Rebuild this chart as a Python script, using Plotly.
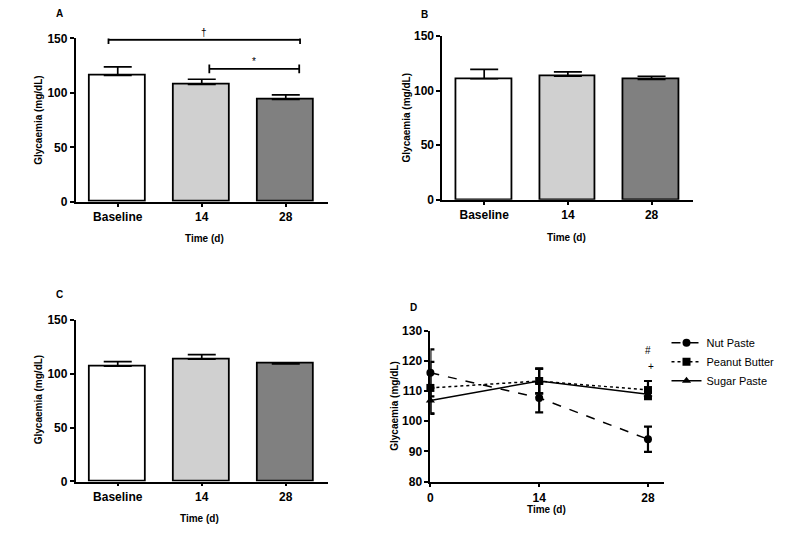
import plotly.graph_objects as go

# ---------------- data ----------------
categories = ["Baseline", "14", "28"]
days = [0, 14, 28]

nut_mean = [116.0, 107.7, 94.0]
nut_sem = [7.8, 4.8, 4.2]
peanut_mean = [111.0, 113.3, 110.3]
peanut_sem = [8.6, 4.0, 3.0]
sugar_mean = [106.8, 113.3, 108.9]
sugar_sem = [4.2, 4.2, 0.9]

bar_colors = ["#ffffff", "#d0d0d0", "#808080"]

# significance brackets in panel A: (x start, x end, y, label) in category units
brackets_A = [(-0.11, 2.17, 148.8, "†"), (1.09, 2.16, 122.0, "*")]
# markers in panel D: (day, value, label)
marks_D = [(28.0, 123.4, "#"), (28.4, 118.0, "+")]

y_ticks_bar = [0, 50, 100, 150]
y_ticks_line = [80, 90, 100, 110, 120, 130]
BAR_RANGE = [0, 150]

FONT = "Liberation Sans, Arial, sans-serif"

fig = go.Figure()

panels = [("x", "y", nut_mean, nut_sem),
          ("x2", "y2", peanut_mean, peanut_sem),
          ("x3", "y3", sugar_mean, sugar_sem)]
for xa, ya, m, s in panels:
    fig.add_trace(go.Bar(
        x=categories, y=m, xaxis=xa, yaxis=ya, width=0.667,
        marker=dict(color=bar_colors, line=dict(color="black", width=1.8)),
        error_y=dict(type="data", symmetric=False, array=s, arrayminus=[0] * len(s),
                     color="black", thickness=1.7, width=14),
        showlegend=False, hoverinfo="skip"))

line_series = [("Nut Paste", nut_mean, nut_sem, "circle", "dash"),
               ("Peanut Butter", peanut_mean, peanut_sem, "square", "dot"),
               ("Sugar Paste", sugar_mean, sugar_sem, "triangle-up", "solid")]
for name, m, s, sym, dash in line_series:
    fig.add_trace(go.Scatter(
        x=days, y=m, xaxis="x4", yaxis="y4", name=name, mode="lines+markers",
        line=dict(color="black", width=1.5, dash=dash),
        marker=dict(symbol=sym, size=8, color="black"),
        error_y=dict(type="data", array=s, color="black", thickness=2.2, width=4),
        cliponaxis=False))

axis_common = dict(showline=True, linecolor="black", linewidth=1.8, ticks="outside",
                   tickcolor="black", tickwidth=1.6, showgrid=False, zeroline=False,
                   tickfont=dict(family=FONT, size=12, color="black", weight="bold"))

def W(a, b):
    return [a / 800, b / 800]

def H(top, bottom):
    return [1 - bottom / 533, 1 - top / 533]

cat_x = dict(axis_common, type="category", range=[-0.5, 2.5], ticklen=3)
bar_y = dict(axis_common, range=BAR_RANGE, tickvals=y_ticks_bar, ticklen=4)

fig.update_layout(
    width=800, height=533, margin=dict(l=0, r=0, t=0, b=0),
    paper_bgcolor="white", plot_bgcolor="white", bargap=0,
    xaxis=dict(cat_x, domain=W(73, 326), anchor="y"),
    yaxis=dict(bar_y, domain=H(32.3, 200), anchor="x"),
    xaxis2=dict(cat_x, domain=W(441, 693), anchor="y2"),
    yaxis2=dict(bar_y, domain=H(30, 198), anchor="x2"),
    xaxis3=dict(cat_x, domain=W(73, 326), anchor="y3"),
    yaxis3=dict(bar_y, domain=H(321, 487.3), anchor="x3"),
    xaxis4=dict(axis_common, range=[0, 30], tickvals=days, ticklen=4,
                domain=W(429, 663), anchor="y4"),
    yaxis4=dict(axis_common, range=[80, 130], tickvals=y_ticks_line, ticklen=4,
                domain=H(332.3, 487.3), anchor="x4"),
    legend=dict(x=666 / 800, y=1 - 330 / 533, xanchor="left", yanchor="top",
                font=dict(family=FONT, size=11, color="black"),
                bgcolor="rgba(0,0,0,0)", tracegroupgap=0),
    font=dict(family=FONT, color="black"),
)

shapes = []
annots = []
span = BAR_RANGE[1] - BAR_RANGE[0]
for x0, x1, yv, lab in brackets_A:
    shapes.append(dict(type="line", xref="x", yref="y", x0=x0, x1=x1, y0=yv, y1=yv,
                       line=dict(color="black", width=1.8)))
    for xe in (x0, x1):
        shapes.append(dict(type="line", xref="x", yref="y", x0=xe, x1=xe,
                           y0=yv - 4, y1=yv + 4, line=dict(color="black", width=1.8)))
    annots.append(dict(xref="x", yref="y domain", x=(x0 + x1) / 2,
                       y=(yv + 14 - BAR_RANGE[0]) / span, text=lab,
                       showarrow=False, font=dict(family=FONT, size=10, color="black")))
for xv, yv, lab in marks_D:
    annots.append(dict(xref="x4", yref="y4", x=xv, y=yv, text=lab, showarrow=False,
                       font=dict(family=FONT, size=10, color="black")))

def paper_text(x, y, text, size=10, angle=0, bold=True):
    annots.append(dict(xref="paper", yref="paper", x=x / 800, y=1 - y / 533,
                       text=text, showarrow=False, textangle=angle,
                       xanchor="center", yanchor="middle",
                       font=dict(family=FONT, size=size, color="black",
                                 weight="bold" if bold else "normal")))

# panel labels
paper_text(57, 7, "A", 10)
paper_text(423, 8, "B", 10)
paper_text(57, 295, "C", 10)
paper_text(412, 309, "D", 10)
# axis titles
for x, y in [(36, 116), (405, 114), (36, 403), (393, 410)]:
    paper_text(x, y, "Glycaemia (mg/dL)", 10, -90)
for x, y in [(202, 238), (566, 237), (197, 525), (546, 516)]:
    paper_text(x, y, "Time (d)", 10)

fig.update_layout(shapes=shapes, annotations=annots)
fig.write_html("out.html", config={"displayModeBar": False},
               post_script="document.body.style.margin='0';document.body.style.overflow='hidden';")
